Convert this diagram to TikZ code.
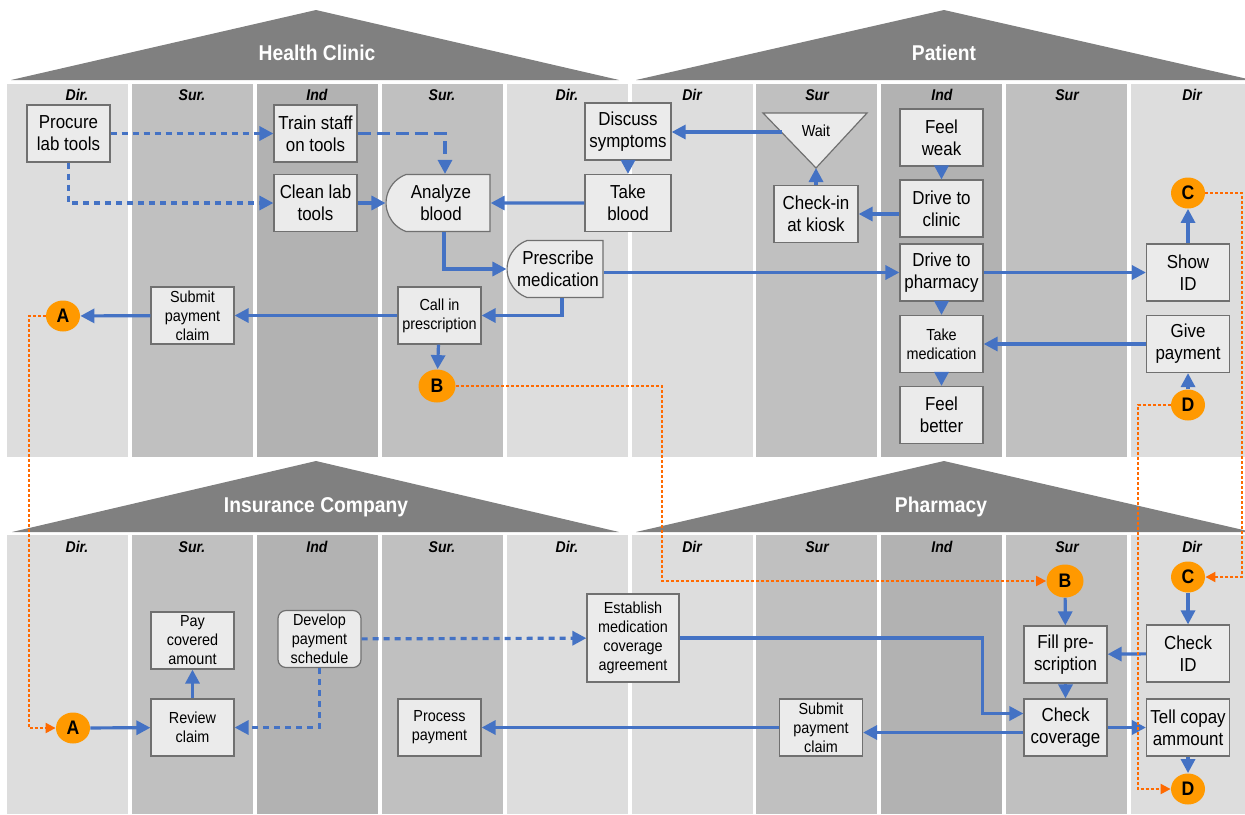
\documentclass[tikz,border=0pt]{standalone}
\usepackage{fontspec}
\setmainfont{Liberation Sans}[FakeStretch=0.9]
\usetikzlibrary{arrows.meta,shapes.misc,shapes.geometric}

\definecolor{dircol}{HTML}{DDDDDD}
\definecolor{surcol}{HTML}{C0C0C0}
\definecolor{indcol}{HTML}{B2B2B2}
\definecolor{roofcol}{HTML}{808080}
\definecolor{boxfill}{HTML}{EBEBEB}
\definecolor{boxline}{HTML}{707070}
\definecolor{flowblue}{HTML}{4472C4}
\definecolor{linkorange}{HTML}{FF9900}
\definecolor{dotorange}{HTML}{FF6A00}

\begin{document}
\begin{tikzpicture}[x=0.5pt,y=-0.5pt,
  task/.style={draw=boxline,line width=0.6pt,fill=boxfill,minimum width=41.5pt,minimum height=28.5pt,inner sep=1pt,align=center,font=\fontsize{9.4}{11}\selectfont},
  smalltask/.style={task,font=\fontsize{8}{9.5}\selectfont},
  halfround/.style={task,rounded rectangle,rounded rectangle right arc=none,rounded rectangle arc length=140},
  link/.style={ellipse,fill=linkorange,minimum width=17pt,minimum height=15.5pt,inner sep=0pt,font=\fontsize{9.8}{11}\selectfont\bfseries},
  lane/.style={font=\fontsize{7.8}{9}\selectfont\bfseries\itshape},
  rooftitle/.style={text=white,font=\fontsize{10.7}{12}\selectfont\bfseries},
  flow/.style={draw=flowblue,line width=1.6pt,-{Triangle[length=7pt,width=7pt]}},
  flowdash/.style={flow,dash pattern=on 3pt off 2.5pt},
  flowlong/.style={flow,dash pattern=on 6.5pt off 3pt},
  xref/.style={draw=dotorange,line width=1pt,dash pattern=on 1.5pt off 1pt,-{Triangle[length=5pt,width=5pt]}}]

\useasboundingbox (0,0) rectangle (1245,814);

% lanes
\foreach \c [count=\k from 0] in {dircol,surcol,indcol,surcol,dircol,dircol,surcol,indcol,surcol,dircol}{
  \fill[\c] ({7+124.9*\k},84) rectangle ++(121,373);
  \fill[\c] ({7+124.9*\k},535) rectangle ++(121,279);
}
\foreach \x/\t [count=\k] in {77/Dir.,192/Sur.,317/Ind,442/Sur.,567/Dir.,692/Dir,817/Sur,942/Ind,1067/Sur,1192/Dir}{
  \node[lane] (top\k) at (\x,95) {\t};
  \node[lane] (bot\k) at (\x,547) {\t};
}

% roofs
\fill[roofcol] (11,80) -- (316,10) -- (619,80) -- cycle;
\fill[roofcol] (636,80) -- (944,10) -- (1252,80) -- cycle;
\fill[roofcol] (12,532) -- (316,461) -- (619,532) -- cycle;
\fill[roofcol] (636,532) -- (944,461) -- (1252,532) -- cycle;
\node[rooftitle] (clinic) at (317,53) {Health Clinic};
\node[rooftitle] (patient) at (944,53) {Patient};
\node[rooftitle] (insurer) at (316,507) {Insurance Company};
\node[rooftitle] (pharmacy) at (941,507) {Pharmacy};

% health clinic and patient
\node[task] (procure) at (68.5,133.5) {Procure\\lab tools};
\node[task] (trainstaff) at (315.5,133.5) {Train staff\\on tools};
\node[task] (cleanlab) at (315.5,203) {Clean lab\\tools};
\node[halfround,minimum width=54pt] (analyze) at (441,203) {Analyze\\blood};
\node[task,minimum width=43pt] (discuss) at (628,131.5) {Discuss\\symptoms};
\node[task,minimum width=43pt] (takeblood) at (628,203) {Take\\blood};
\node[halfround,minimum width=50pt] (prescribe) at (558,269) {Prescribe\\medication};
\node[smalltask] (callin) at (439.5,315.5) {Call in\\prescription};
\node[smalltask] (subclaim) at (192.5,315.5) {Submit\\payment\\claim};
\node[link] (lnkA1) at (63,316) {A};
\node[link,minimum width=18.5pt,minimum height=16.5pt] (lnkB1) at (437,386) {B};

\fill[boxfill,draw=boxline,line width=0.6pt] (763,113) -- (867,113) -- (816,168) -- cycle;
\node[smalltask,draw=none,fill=none] (wait) at (816,131) {Wait};
\coordinate (waitapex) at (816,168);
\coordinate (waitside) at (782,132);
\node[task,minimum width=42pt] (checkin) at (816,214) {Check-in\\at kiosk};
\node[task] (feelweak) at (941.5,137.5) {Feel\\weak};
\node[task] (driveclinic) at (941.5,208.5) {Drive to\\clinic};
\node[task] (drivepharm) at (941.5,272.5) {Drive to\\pharmacy};
\node[smalltask] (takemed) at (941.5,344) {Take\\medication};
\node[task] (feelbetter) at (941.5,415) {Feel\\better};
\node[task] (showid) at (1188,272.5) {Show\\ID};
\node[task] (givepay) at (1188,344) {Give\\payment};
\node[link] (lnkC1) at (1188,193) {C};
\node[link] (lnkD1) at (1188,405) {D};

\draw[flowdash] (procure) -- (trainstaff);
\draw[flowdash] (procure) |- (cleanlab);
\draw[flowlong] (trainstaff) -| ([xshift=2pt]analyze.north);
\draw[flow] (cleanlab) -- (analyze);
\draw[flow] (takeblood) -- (analyze);
\draw[flow] (discuss) -- (takeblood);
\draw[flow] (waitside) -- (discuss.east |- waitside);
\draw[flow] (checkin) -- (waitapex);
\draw[flow] (feelweak) -- (driveclinic);
\draw[flow] (driveclinic.west |- checkin.east) -- (checkin.east);
\draw[flow] ([xshift=1.5pt]analyze.south) |- (prescribe.west);
\draw[flow] (prescribe.east |- drivepharm.west) -- (drivepharm.west);
\draw[flow] (drivepharm) -- (showid);
\draw[flow] (showid) -- (lnkC1);
\draw[flow] (drivepharm) -- (takemed);
\draw[flow] (takemed) -- (feelbetter);
\draw[flow] (givepay) -- (takemed);
\draw[flow] (lnkD1) -- (givepay);
\draw[flow] ([xshift=2pt]prescribe.south) |- (callin.east);
\draw[flow] (callin) -- (subclaim);
\draw[flow] (subclaim) -- (lnkA1);
\draw[flow] (callin) -- (lnkB1);

% insurance company and pharmacy
\node[link] (lnkA2) at (73,728) {A};
\node[smalltask] (review) at (192.5,727.5) {Review\\claim};
\node[smalltask] (paycov) at (192.5,640.5) {Pay\\covered\\amount};
\node[smalltask,rounded corners=4pt] (develop) at (319.5,639) {Develop\\payment\\schedule};
\node[smalltask] (process) at (439.5,727.5) {Process\\payment};
\node[smalltask,minimum width=46pt,minimum height=44pt] (establish) at (633,638) {Establish\\medication\\coverage\\agreement};
\node[smalltask] (subpay) at (821,727.5) {Submit\\payment\\claim};
\node[link,minimum width=18.5pt,minimum height=16.5pt] (lnkB2) at (1065,581) {B};
\node[link] (lnkC2) at (1188,577) {C};
\node[task] (fillpre) at (1065.5,654.5) {Fill pre-\\scription};
\node[task] (checkid) at (1188,653.5) {Check\\ID};
\node[task] (chkcov) at (1065.5,727.5) {Check\\coverage};
\node[task] (tellcopay) at (1188,727.5) {Tell copay\\ammount};
\node[link] (lnkD2) at (1188,789) {D};

\draw[flow] (lnkA2) -- (review);
\draw[flow] (review) -- (paycov);
\draw[flowdash] (develop) |- (review);
\draw[flowdash] (develop) -- (establish);
\draw[flow] (establish.east) -- ++(303,0) |- ([yshift=7pt]chkcov.west);
\draw[flow] ([yshift=-2.5pt]chkcov.west) -- ([yshift=-2.5pt]subpay.east);
\draw[flow] (subpay) -- (process);
\draw[flow] (lnkB2) -- (fillpre);
\draw[flow] (fillpre) -- (chkcov);
\draw[flow] (checkid) -- (fillpre);
\draw[flow] (lnkC2) -- (checkid);
\draw[flow] (chkcov) -- (tellcopay);
\draw[flow] (tellcopay) -- (lnkD2);

% off-page links
\draw[xref] (lnkA1.west) -- ++(-17,0) |- (lnkA2.west);
\draw[xref] (lnkB1.east) -- ++(206,0) |- (lnkB2.west);
\draw[xref] (lnkC1.east) -- ++(37,0) |- (lnkC2.east);
\draw[xref] (lnkD1.west) -- ++(-33,0) |- (lnkD2.west);
\end{tikzpicture}
\end{document}
